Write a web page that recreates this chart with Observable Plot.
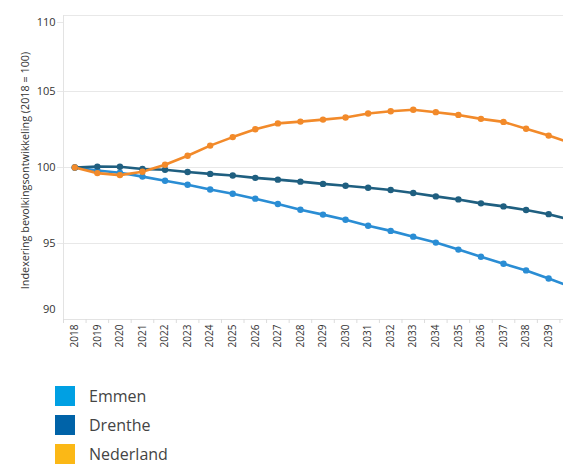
<!DOCTYPE html>
<html>
<head>
<meta charset="utf-8">
<script src="https://cdn.jsdelivr.net/npm/d3@7"></script>
<script src="https://cdn.jsdelivr.net/npm/@observablehq/plot@0.6"></script>
<style>
  html, body { margin: 0; padding: 0; overflow: hidden; background: #fff; }
  #chart { width: 563px; height: 359px; overflow: hidden; }
  #chart svg { max-width: none !important; display: block; }
  #legend { margin-top: 22px; padding-left: 55px; font-family: "Open Sans", "Noto Sans", sans-serif; font-size: 16px; line-height: 20px; color: #444; }
  .row { display: flex; align-items: center; height: 29px; }
  .sw { width: 20px; height: 20px; margin-right: 14px; }
</style>
</head>
<body>
<div id="chart"></div>
<div id="legend"></div>
<script>
const years = [2018,2019,2020,2021,2022,2023,2024,2025,2026,2027,2028,2029,2030,2031,2032,2033,2034,2035,2036,2037,2038,2039,2040];
const tickYears = [2018,2019,2020,2021,2022,2023,2024,2025,2026,2027,2028,2029,2030,2031,2032,2033,2034,2035,2036,2037,2038,2039];
const emmen = [100,99.8,99.65,99.4,99.13,98.87,98.55,98.27,97.95,97.6,97.22,96.9,96.56,96.17,95.83,95.45,95.06,94.6,94.13,93.67,93.23,92.7,92.15];
const drenthe = [100,100.06,100.05,99.9,99.85,99.7,99.58,99.47,99.32,99.2,99.07,98.92,98.8,98.67,98.52,98.32,98.1,97.9,97.64,97.44,97.2,96.93,96.55];
const nederland = [100,99.63,99.5,99.72,100.18,100.77,101.44,102.0,102.52,102.9,103.02,103.15,103.29,103.55,103.7,103.8,103.64,103.46,103.2,103.0,102.55,102.1,101.6];
const seriesNames = ["Emmen","Drenthe","Nederland"];
const lineColors = ["#2a8dd4","#1f5f80","#f28a2a"];
const legendColors = ["#00a0e3","#0063a8","#fbb816"];
const yTicks = [95,100,105];
const yLabel = "Indexering bevolkingsontwikkeling (2018 = 100)";

const seriesValues = [emmen, drenthe, nederland];
const data = seriesNames.flatMap((name, i) => years.map((yr, j) => ({series: name, year: yr, value: seriesValues[i][j]})));
const boundaries = years.map(y => y - 0.5);
const font = "'Open Sans', 'Noto Sans', sans-serif";

const chart = Plot.plot({
  width: 582,
  height: 359,
  marginTop: 15,
  marginBottom: 40,
  marginLeft: 63,
  marginRight: 0,
  style: {fontFamily: font, color: "#333", background: "#fff", maxWidth: "none"},
  x: {type: "linear", domain: [2017.5, 2040.5]},
  y: {domain: [90, 110]},
  color: {domain: seriesNames, range: lineColors},
  marks: [
    Plot.gridY([95, 100, 105, 110], {stroke: "#e8e8e8", strokeOpacity: 1}),
    Plot.ruleX([2017.5], {stroke: "#e3e3e3"}),
    Plot.ruleY([90], {stroke: "#e3e3e3"}),
    Plot.axisX(boundaries, {tickSize: 4, text: null, stroke: "#dcdcdc", label: null}),
    Plot.axisX(tickYears, {tickSize: 0, tickRotate: -90, tickPadding: 5, tickFormat: d => String(d), fontSize: 10, label: null, fill: "#333"}),
    Plot.axisY(yTicks, {tickSize: 6, stroke: "#e8e8e8", tickPadding: 2, fontSize: 11, label: null, fill: "#333"}),
    Plot.axisY([110], {tickSize: 6, stroke: "#e8e8e8", tickPadding: 2, fontSize: 11, dy: 7, label: null, fill: "#333"}),
    Plot.axisY([90], {tickSize: 0, tickPadding: 8, fontSize: 11, dy: -10, label: null, fill: "#333"}),
    Plot.text([yLabel], {frameAnchor: "left", textAnchor: "middle", rotate: -90, dx: -38, dy: 3, fontSize: 10.8, fill: "#333"}),
    Plot.line(data, {x: "year", y: "value", stroke: "series", strokeWidth: 2.6}),
    Plot.dot(data, {x: "year", y: "value", fill: "series", r: 3.2})
  ]
});
document.getElementById("chart").appendChild(chart);

const legend = document.getElementById("legend");
seriesNames.forEach((name, i) => {
  const row = document.createElement("div");
  row.className = "row";
  const sw = document.createElement("div");
  sw.className = "sw";
  sw.style.background = legendColors[i];
  const t = document.createElement("span");
  t.textContent = name;
  row.appendChild(sw);
  row.appendChild(t);
  legend.appendChild(row);
});
</script>
</body>
</html>
